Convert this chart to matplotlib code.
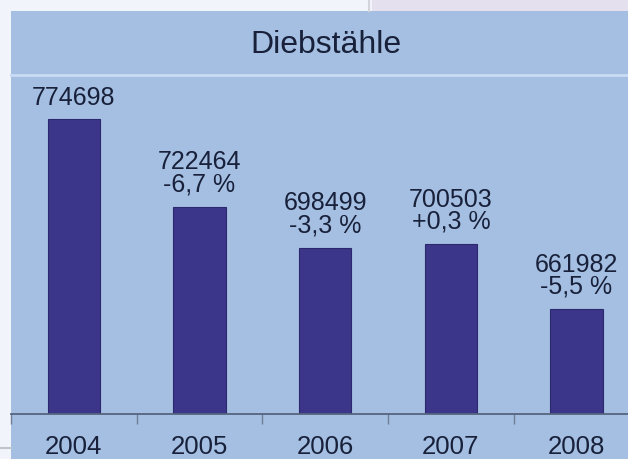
import matplotlib
matplotlib.use("Agg")
import matplotlib.pyplot as plt
from matplotlib.patches import Rectangle
from matplotlib.lines import Line2D

years = ["2004", "2005", "2006", "2007", "2008"]
values = [774698, 722464, 698499, 700503, 661982]
changes = ["", "-6,7 %", "-3,3 %", "+0,3 %", "-5,5 %"]
title = "Diebstähle"

W, H = 628, 459
fig = plt.figure(figsize=(W / 100, H / 100), dpi=100)
fig.patch.set_facecolor("#f1f4fa")

font = "Liberation Sans"
txt_col = "#18203a"
panel_col = "#a4bfe1"
bar_col = "#3b3689"

def fx(px):
    return px / W

def fy(py):
    return 1 - py / H

# background panel and top strips
fig.patches.append(Rectangle((fx(11), 0), 1 - fx(11), fy(11), transform=fig.transFigure,
                             facecolor=panel_col, edgecolor="none", zorder=-5))
fig.patches.append(Rectangle((fx(372), fy(11)), 1 - fx(372), 1 - fy(11), transform=fig.transFigure,
                             facecolor="#e5e0ee", edgecolor="none", zorder=-5))
fig.lines.append(Line2D([fx(369), fx(369)], [fy(11), 1], transform=fig.transFigure,
                        color="#d3d3dc", lw=1.5, zorder=-4))
fig.lines.append(Line2D([fx(11), 1], [fy(75.5), fy(75.5)], transform=fig.transFigure,
                        color="#c9dcf3", lw=2, zorder=-4))
fig.lines.append(Line2D([0, fx(11)], [fy(448), fy(448)], transform=fig.transFigure,
                        color="#c0c4cc", lw=1.5, zorder=-4))

fig.text(fx(326), fy(45), title, ha="center", va="center", fontsize=23,
         family=font, color=txt_col)

ax = fig.add_axes([fx(11), fy(414), 1 - fx(11), fy(76) - fy(414)])
ax.set_zorder(2)
ax.set_facecolor("none")
x = list(range(len(years)))
bars = ax.bar(x, values, width=0.415, color=bar_col, edgecolor="#2c2870", linewidth=0.8)
ax.set_ylim(600000, 800000)
ax.set_xlim(-0.5, 4.41)

for xi, v, c in zip(x, values, changes):
    if c:
        ax.annotate(c, (xi, v), xytext=(0, 7.5), textcoords="offset points",
                    ha="center", va="bottom", fontsize=18, family=font, color=txt_col)
        ax.annotate(str(v), (xi, v), xytext=(0, 23.5), textcoords="offset points",
                    ha="center", va="bottom", fontsize=18, family=font, color=txt_col)
    else:
        ax.annotate(str(v), (xi, v), xytext=(0, 6), textcoords="offset points",
                    ha="center", va="bottom", fontsize=18, family=font, color=txt_col)

for s in ["top", "right", "left"]:
    ax.spines[s].set_visible(False)
ax.spines["bottom"].set_color("#56647e")
ax.spines["bottom"].set_linewidth(1.3)
ax.set_yticks([])
ax.set_xticks(x)
ax.set_xticklabels(years, fontsize=18.5, family=font, color=txt_col)
ax.tick_params(axis="x", which="major", length=0, pad=15)
ax.set_xticks([i - 0.5 for i in x], minor=True)
ax.tick_params(axis="x", which="minor", length=7, width=1, color="#6f7d96")

fig.savefig("out.png", dpi=100, facecolor=fig.get_facecolor())
